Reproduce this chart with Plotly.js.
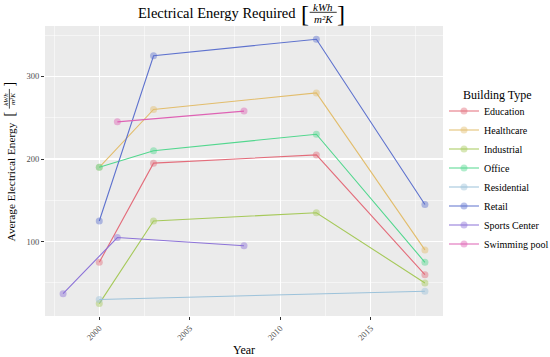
<!DOCTYPE html>
<html>
<head>
<meta charset="utf-8">
<script src="https://cdn.plot.ly/plotly-3.0.1.min.js"></script>
<style>html,body{margin:0;padding:0;background:#fff;}#chart{width:550px;height:357px;}</style>
</head>
<body>
<div id="chart"></div>
<script>
// ---- data ----
const categories = ["Education","Healthcare","Industrial","Office","Residential","Retail","Sports Center","Swimming pool"];
const colors = ["#E36C7A","#E2BD6C","#A6C95A","#52D78E","#9CC2DA","#5E72CE","#8C72D8","#DE62B4"];
const educationYears = [2000, 2003, 2012, 2018];
const educationValues = [75, 195, 205, 60];
const healthcareYears = [2000, 2003, 2012, 2018];
const healthcareValues = [190, 260, 280, 90];
const industrialYears = [2000, 2003, 2012, 2018];
const industrialValues = [25, 125, 135, 50];
const officeYears = [2000, 2003, 2012, 2018];
const officeValues = [190, 210, 230, 75];
const residentialYears = [2000, 2018];
const residentialValues = [30, 40];
const retailYears = [2000, 2003, 2012, 2018];
const retailValues = [125, 325, 345, 145];
const sportsYears = [1998, 2001, 2008];
const sportsValues = [37, 105, 95];
const poolYears = [2001, 2008];
const poolValues = [245, 258];
const xTickVals = [2000, 2005, 2010, 2015];
const yTickVals = [100, 200, 300];

const seriesYears = [educationYears, healthcareYears, industrialYears, officeYears, residentialYears, retailYears, sportsYears, poolYears];
const seriesValues = [educationValues, healthcareValues, industrialValues, officeValues, residentialValues, retailValues, sportsValues, poolValues];

const serif = "Liberation Serif";

const traces = categories.map((name, i) => ({
  type: "scatter",
  mode: "lines+markers",
  name: name,
  x: seriesYears[i],
  y: seriesValues[i],
  line: {color: colors[i], width: 1.1},
  marker: {color: colors[i], size: 7, opacity: 0.45},
  hoverinfo: "x+y+name"
}));

function note(x, y, text, size, extra) {
  return Object.assign({xref: "paper", yref: "paper", x: x, y: y, xanchor: "center", yanchor: "middle",
    showarrow: false, text: text, font: {family: serif, size: size, color: "#000"}}, extra || {});
}

const annotations = [
  // title
  note(0.636, 1.045, "Electrical Energy Required", 14.5, {xanchor: "right"}),
  note(0.653, 1.043, "[", 24),
  note(0.699, 1.067, "<i>kWh</i>", 11),
  note(0.699, 1.024, "<i>m²K</i>", 11),
  note(0.743, 1.043, "]", 24),
  // y title
  note(-0.0844, 0.462, "Average Electrical Energy", 11.3, {textangle: -90}),
  note(-0.089, 0.697, "[", 14, {textangle: -90}),
  note(-0.098, 0.749, "<i>kWh</i>", 7, {textangle: -90}),
  note(-0.080, 0.749, "<i>m²K</i>", 7, {textangle: -90}),
  note(-0.089, 0.800, "]", 14, {textangle: -90}),
  // legend title
  note(1.046, 0.762, "Building Type", 12, {xanchor: "left"})
];

const shapes = [
  {type: "line", xref: "paper", yref: "paper", x0: 0.665, x1: 0.733, y0: 1.0472, y1: 1.0472, line: {color: "#000", width: 0.8}},
  {type: "line", xref: "paper", yref: "paper", x0: -0.0895, x1: -0.0895, y0: 0.715, y1: 0.783, line: {color: "#000", width: 0.7}}
];

const layout = {
  width: 550, height: 357,
  margin: {l: 45, r: 107, t: 26, b: 41, autoexpand: false},
  paper_bgcolor: "#FFFFFF",
  plot_bgcolor: "#EBEBEB",
  font: {family: serif, color: "#000"},
  showlegend: true,
  legend: {
    x: 1.0025, xanchor: "left", y: 0.757, yanchor: "top",
    bgcolor: "rgba(0,0,0,0)",
    font: {family: serif, size: 10, color: "#000"}
  },
  xaxis: {
    range: [1997, 2019],
    tickmode: "array", tickvals: xTickVals, ticktext: xTickVals.map(String),
    tickangle: -45,
    ticks: "outside", ticklen: 3, tickcolor: "#333333", tickwidth: 1,
    tickfont: {family: serif, size: 8.5, color: "#4D4D4D"},
    showgrid: true, gridcolor: "#FFFFFF", gridwidth: 1.1,
    minor: {dtick: 2.5, tick0: 2000, showgrid: true, gridcolor: "#FFFFFF", gridwidth: 0.5},
    zeroline: false, showline: false,
    title: {text: "Year", font: {family: serif, size: 12, color: "#000"}, standoff: 4}
  },
  yaxis: {
    range: [10, 361],
    tickmode: "array", tickvals: yTickVals, ticktext: yTickVals.map(String),
    ticks: "outside", ticklen: 3, tickcolor: "#333333", tickwidth: 1,
    tickfont: {family: serif, size: 8.5, color: "#4D4D4D"},
    showgrid: true, gridcolor: "#FFFFFF", gridwidth: 1.1,
    minor: {dtick: 50, tick0: 0, showgrid: true, gridcolor: "#FFFFFF", gridwidth: 0.5},
    zeroline: false, showline: false
  },
  annotations: annotations,
  shapes: shapes
};

Plotly.newPlot("chart", traces, layout, {displayModeBar: false, staticPlot: true});
</script>
</body>
</html>
